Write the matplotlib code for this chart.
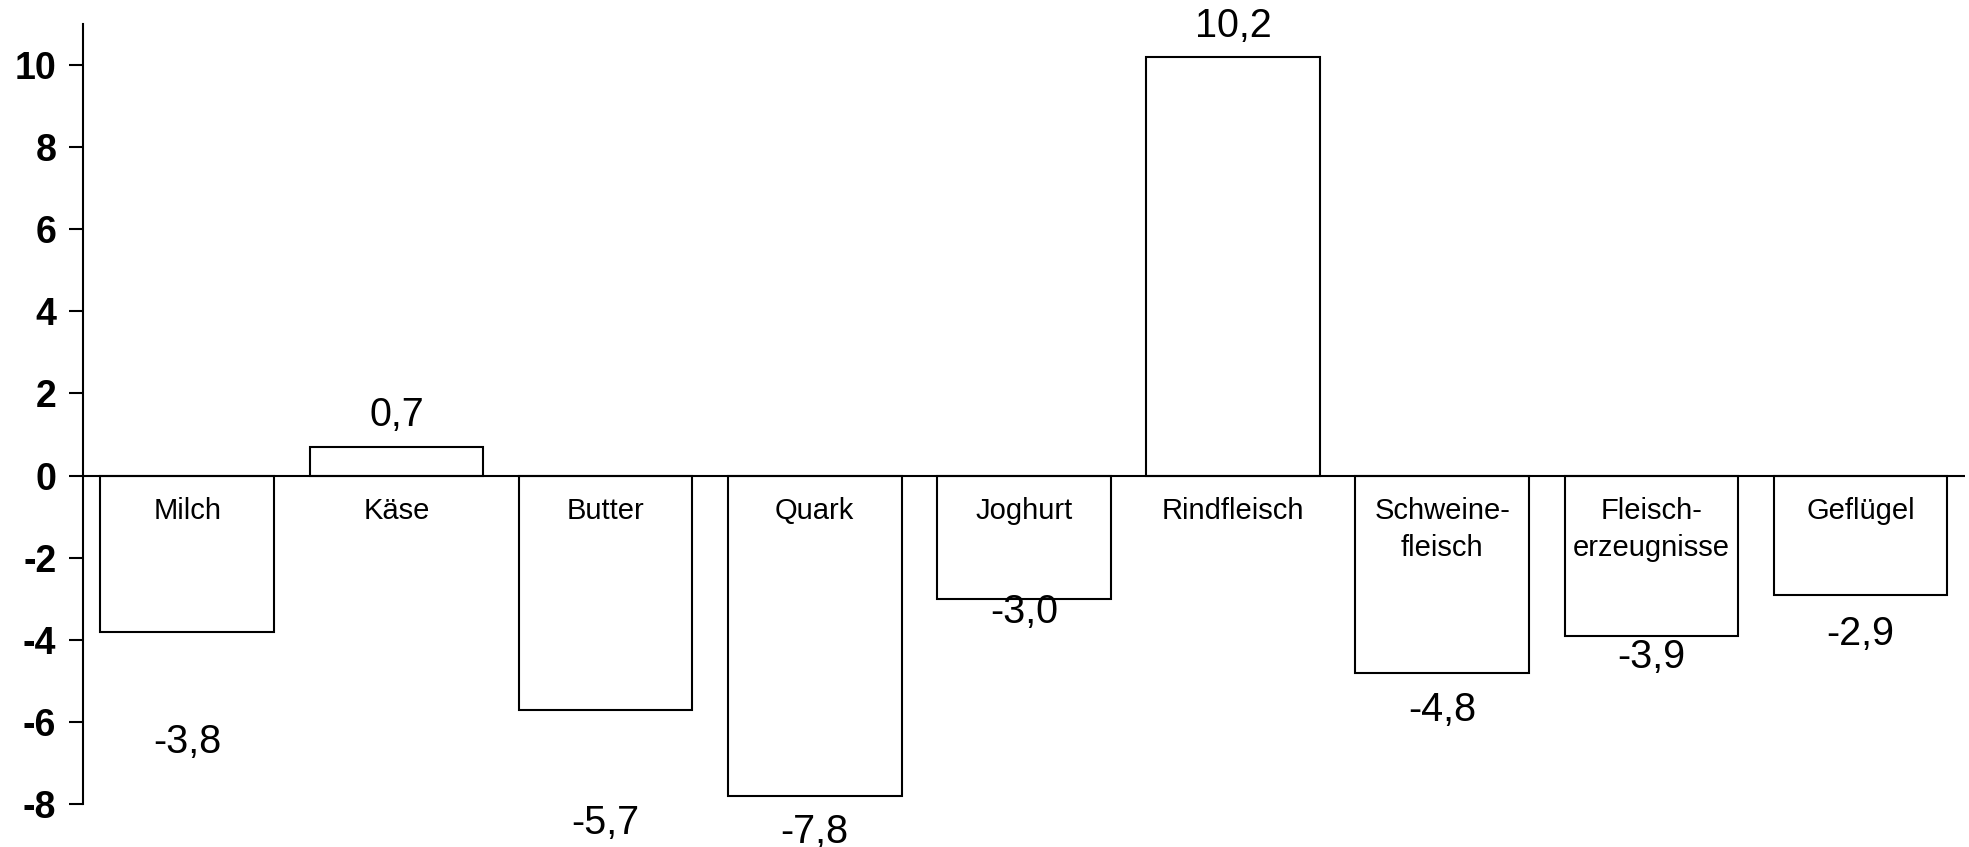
import matplotlib.pyplot as plt

# Veränderung in %
categories = ["Milch", "Käse", "Butter", "Quark", "Joghurt", "Rindfleisch",
              "Schweine-\nfleisch", "Fleisch-\nerzeugnisse", "Geflügel"]
values = [-3.8, 0.7, -5.7, -7.8, -3.0, 10.2, -4.8, -3.9, -2.9]
value_labels = ["-3,8", "0,7", "-5,7", "-7,8", "-3,0", "10,2", "-4,8", "-3,9", "-2,9"]
# where the value labels sit (data units), as in the original
label_y = [-6.48, 1.48, -8.46, -8.68, -3.32, 10.96, -5.71, -4.43, -3.87]

plt.rcParams['font.family'] = ['Liberation Sans', 'DejaVu Sans']

fig = plt.figure(figsize=(19.69, 8.47), dpi=100)
ax = fig.add_axes([0.042, 0.0508, 0.956, 0.9209])

x = list(range(len(values)))
ax.bar(x, values, width=0.83, color='white', edgecolor='black', linewidth=1.5, zorder=2)
ax.axhline(0, color='black', linewidth=1.5, zorder=3)

for xi, name in zip(x, categories):
    ax.text(xi, -0.52, name, ha='center', va='top', fontsize=21, linespacing=1.4, zorder=4)

for xi, lab, ly in zip(x, value_labels, label_y):
    ax.text(xi, ly, lab, ha='center', va='center', fontsize=28.5, clip_on=False, zorder=4)

ax.set_xlim(-0.5, 8.5)
ax.set_ylim(-8, 11)
ax.set_yticks(range(-8, 11, 2))
ax.set_yticklabels([str(v) for v in range(-8, 11, 2)], fontsize=27, fontweight='bold')
ax.tick_params(axis='y', direction='out', length=10, width=1.5, pad=9)
ax.set_xticks([])

for side in ['top', 'right', 'bottom']:
    ax.spines[side].set_visible(False)
ax.spines['left'].set_linewidth(1.5)

plt.savefig("out.png", dpi=100)
